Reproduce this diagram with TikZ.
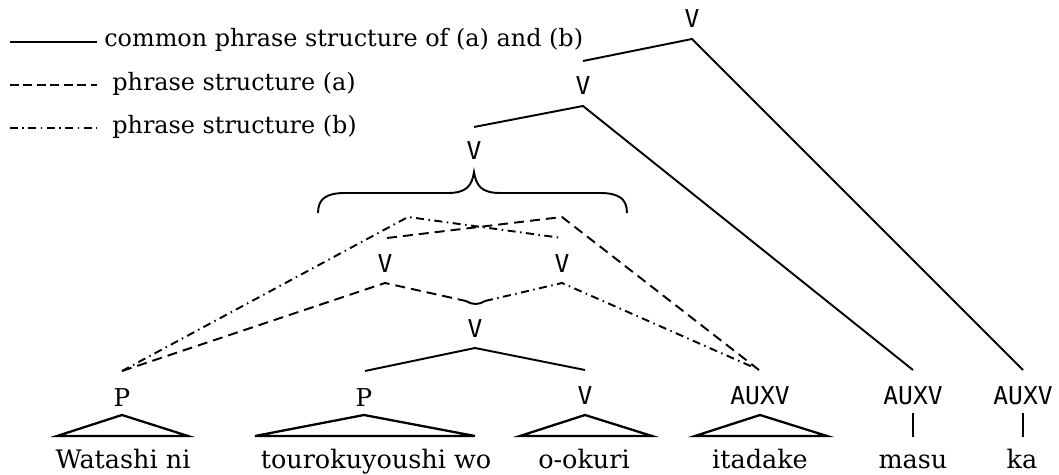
\documentclass[tikz,border=0pt]{standalone}
\usepackage{fontspec}
\setmainfont{DejaVu Serif}
\newfontfamily\labfont{DejaVu Sans Mono}
\begin{document}
\begin{tikzpicture}[x=0.02cm,y=-0.02cm,
  conn/.style={line width=1.1pt},
  adash/.style={line width=1.1pt, dash pattern=on 0.2cm off 0.12cm},
  bdash/.style={line width=1.1pt, dash pattern=on 0.16cm off 0.09cm on 0.03cm off 0.09cm},
  cat/.style={font=\labfont\fontsize{14}{14}\selectfont, inner sep=0pt, outer sep=0pt},
  pcat/.style={font=\fontsize{14}{14}\selectfont, inner sep=0pt, outer sep=0pt},
  word/.style={font=\fontsize{14.5}{15}\selectfont, inner sep=0pt, anchor=base},
  legtext/.style={font=\fontsize{13.6}{14}\selectfont, inner sep=0pt, anchor=base west},
  tri/.style={line width=1.3pt, line join=miter}
]
\useasboundingbox (0,0) rectangle (1059,475);

% legend
\coordinate (l1a) at (10,42); \coordinate (l1b) at (97,42);
\coordinate (l2a) at (10,85); \coordinate (l2b) at (97,85);
\coordinate (l3a) at (10,128); \coordinate (l3b) at (97,128);
\draw[conn] (l1a) -- (l1b);
\draw[adash, dash pattern=on 0.18cm off 0.09cm] (l2a) -- (l2b);
\draw[bdash] (l3a) -- (l3b);
\node[legtext] (t1) at (104,47) {common phrase structure of (a) and (b)};
\node[legtext] (t2) at (112,91) {phrase structure (a)};
\node[legtext] (t3) at (112,134) {phrase structure (b)};

% category labels
\node[cat] (vtop) at (692,19) {V};
\node[cat] (vsec) at (583,86) {V};
\node[cat] (vbr) at (474,151) {V};
\node[cat] (vl) at (385,264) {V};
\node[cat] (vr) at (562,264) {V};
\node[cat] (vmid) at (475,329) {V};
\node[pcat] (p1) at (122,398) {P};
\node[pcat] (p2) at (364,398) {P};
\node[cat] (v3) at (585,396) {V};
\node[cat] (ax1) at (760,396) {AUXV};
\node[cat] (ax2) at (913,396) {AUXV};
\node[cat] (ax3) at (1023,396) {AUXV};

% words
\node[word] (w1) at (123,469) {Watashi ni};
\node[word] (w2) at (376,469) {tourokuyoushi wo};
\node[word] (w3) at (584,469) {o-okuri};
\node[word] (w4) at (760,469) {itadake};
\node[word] (w5) at (913,469) {masu};
\node[word] (w6) at (1022,469) {ka};

% apex / end coordinates
\coordinate (a1) at (692,39);
\coordinate (a1l) at (583,61);
\coordinate (a2) at (583,106);
\coordinate (a2l) at (474,127);
\coordinate (kaTop) at (1023,370);
\coordinate (maTop) at (913,370);
\coordinate (atop) at (562,217);
\coordinate (btop) at (408,217);
\coordinate (vlTop) at (387,238);
\coordinate (vrTop) at (562,238);
\coordinate (vlA) at (385,283);
\coordinate (vrA) at (562,283);
\coordinate (cupL) at (466,301);
\coordinate (cupR) at (485,301);
\coordinate (itTop) at (759,370);
\coordinate (itTop2) at (755,368);
\coordinate (p1Top) at (122,371);
\coordinate (vmA) at (475,348);
\coordinate (p2Top) at (365,371);
\coordinate (v3Top) at (585,370);

% solid common structure
\draw[conn] (a1l) -- (a1) -- (kaTop);
\draw[conn] (a2l) -- (a2) -- (maTop);
\draw[conn] (p2Top) -- (vmA) -- (v3Top);

% brace
\coordinate (brL) at (318,213);
\coordinate (brR) at (627,213);
\coordinate (brC) at (474,172);
\draw[conn] (brL) .. controls (318,199) and (326,193) .. (345,193) -- (448,193)
  .. controls (466,193) and (472,186) .. (brC)
  .. controls (476,186) and (482,193) .. (500,193) -- (600,193)
  .. controls (619,193) and (627,199) .. (brR);

% structure (a)
\draw[adash] (vlTop) -- (atop) -- (itTop);
\draw[adash] (p1Top) -- (vlA) -- (cupL);
% cup joining at the middle V
\draw[conn] (cupL) .. controls (472,305) and (479,305) .. (cupR);
% structure (b)
\draw[bdash] (p1Top) -- (btop) -- (vrTop);
\draw[bdash] (cupR) -- (vrA) -- (itTop2);

% triangles
\draw[tri] (57,436) -- (122,415) -- (188,436) -- cycle;
\draw[tri] (255,436) -- (364,415) -- (475,436) -- cycle;
\draw[tri] (520,436) -- (585,415) -- (652,436) -- cycle;
\draw[tri] (695,436) -- (760,415) -- (827,436) -- cycle;
% bars
\coordinate (b2a) at (913,413); \coordinate (b2b) at (913,437);
\coordinate (b3a) at (1023,413); \coordinate (b3b) at (1023,437);
\draw[conn] (b2a) -- (b2b);
\draw[conn] (b3a) -- (b3b);
\end{tikzpicture}
\end{document}
